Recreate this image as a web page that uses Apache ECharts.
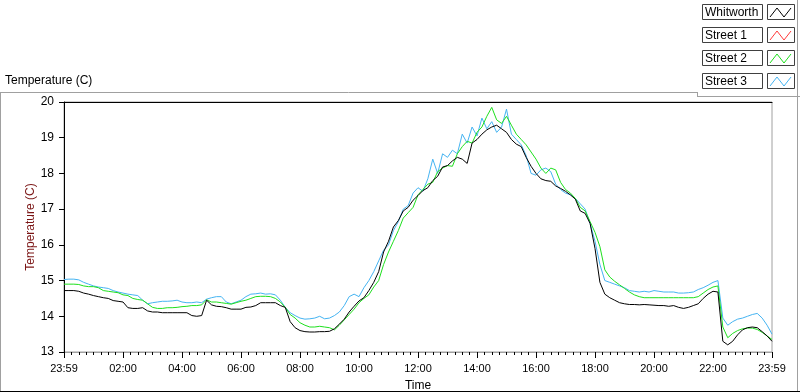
<!DOCTYPE html>
<html>
<head>
<meta charset="utf-8">
<script src="https://cdn.jsdelivr.net/npm/echarts@6/dist/echarts.min.js"></script>
<style>
html, body { margin: 0; padding: 0; background: #fff; }
#box4 { width: 800px; height: 392px; }
</style>
</head>
<body>
<div id="box4"></div>
<script>
// minutes since 23:59 of the previous day
var minutes = [0, 10, 20, 30, 40, 50, 60, 70, 80, 90, 100, 110, 120, 130, 140, 150, 160, 170, 180, 190,
    200, 210, 220, 230, 240, 250, 260, 270, 280, 290, 300, 310, 320, 330, 340, 350, 360, 370, 380, 390,
    400, 410, 420, 430, 440, 450, 460, 470, 480, 490, 500, 510, 520, 530, 540, 550, 560, 570, 580, 590,
    600, 610, 620, 630, 640, 650, 660, 670, 680, 690, 700, 710, 720, 730, 740, 750, 760, 770, 780, 790,
    800, 810, 820, 830, 840, 850, 860, 870, 880, 890, 900, 910, 920, 930, 940, 950, 960, 970, 980, 990,
    1000, 1010, 1020, 1030, 1040, 1050, 1060, 1070, 1080, 1090, 1100, 1110, 1120, 1130, 1140, 1150, 1160, 1170, 1180, 1190,
    1200, 1210, 1220, 1230, 1240, 1250, 1260, 1270, 1280, 1290, 1300, 1310, 1320, 1330, 1340, 1350, 1360, 1370, 1380, 1390,
    1400, 1410, 1420, 1430, 1440];

var whitworth = [14.72, 14.72, 14.72, 14.70, 14.65, 14.62, 14.58, 14.55, 14.52, 14.50, 14.44, 14.42, 14.40, 14.24, 14.22, 14.22, 14.24, 14.15, 14.12, 14.12,
    14.10, 14.10, 14.10, 14.10, 14.10, 14.10, 14.02, 14.00, 14.02, 14.45, 14.32, 14.28, 14.27, 14.24, 14.20, 14.20, 14.20, 14.25, 14.26, 14.30,
    14.38, 14.38, 14.38, 14.38, 14.30, 14.25, 13.85, 13.68, 13.60, 13.57, 13.56, 13.56, 13.57, 13.57, 13.58, 13.65, 13.78, 13.92, 14.12, 14.28,
    14.43, 14.52, 14.72, 14.95, 15.25, 15.80, 16.10, 16.50, 16.68, 16.95, 17.05, 17.25, 17.38, 17.52, 17.60, 17.80, 17.92, 18.18, 18.22, 18.35,
    18.45, 18.40, 18.28, 18.85, 18.95, 19.10, 19.22, 19.30, 19.35, 19.25, 19.15, 18.95, 18.82, 18.75, 18.45, 18.20, 18.00, 17.85, 17.80, 17.78,
    17.65, 17.58, 17.50, 17.40, 17.28, 16.95, 16.88, 16.60, 15.90, 14.95, 14.62, 14.52, 14.45, 14.38, 14.35, 14.33, 14.33, 14.32, 14.33, 14.32,
    14.31, 14.30, 14.30, 14.28, 14.30, 14.25, 14.22, 14.25, 14.30, 14.35, 14.50, 14.62, 14.70, 14.68, 13.30, 13.20, 13.30, 13.48, 13.62, 13.68,
    13.70, 13.68, 13.57, 13.45, 13.30];

var street1 = [];

var street2 = [14.90, 14.90, 14.90, 14.89, 14.85, 14.83, 14.83, 14.80, 14.72, 14.70, 14.68, 14.66, 14.60, 14.58, 14.50, 14.47, 14.45, 14.35, 14.25, 14.22,
    14.22, 14.24, 14.24, 14.25, 14.27, 14.28, 14.30, 14.30, 14.32, 14.46, 14.40, 14.40, 14.38, 14.36, 14.34, 14.38, 14.42, 14.45, 14.50, 14.55,
    14.56, 14.56, 14.55, 14.50, 14.40, 14.25, 14.05, 13.95, 13.82, 13.75, 13.70, 13.70, 13.72, 13.70, 13.68, 13.62, 13.75, 13.90, 14.05, 14.20,
    14.38, 14.50, 14.60, 14.82, 15.00, 15.45, 15.80, 16.10, 16.40, 16.75, 16.90, 17.05, 17.40, 17.55, 17.70, 17.75, 18.05, 18.15, 18.22, 18.20,
    18.55, 18.75, 18.90, 18.85, 19.15, 19.30, 19.60, 19.85, 19.50, 19.40, 19.60, 19.35, 19.10, 18.95, 18.80, 18.60, 18.40, 18.15, 18.00, 18.15,
    18.10, 17.75, 17.55, 17.45, 17.30, 17.05, 16.95, 16.65, 16.35, 15.95, 15.30, 15.10, 14.98, 14.88, 14.78, 14.68, 14.60, 14.55, 14.52, 14.52,
    14.52, 14.52, 14.52, 14.52, 14.52, 14.52, 14.52, 14.52, 14.52, 14.55, 14.65, 14.75, 14.82, 14.85, 13.70, 13.40, 13.52, 13.60, 13.65, 13.67,
    13.67, 13.63, 13.55, 13.45, 13.35];

var street3 = [15.03, 15.04, 15.04, 15.02, 14.95, 14.90, 14.85, 14.82, 14.80, 14.78, 14.72, 14.68, 14.65, 14.62, 14.60, 14.58, 14.45, 14.35, 14.38, 14.40,
    14.42, 14.42, 14.43, 14.45, 14.40, 14.38, 14.38, 14.40, 14.38, 14.48, 14.52, 14.55, 14.55, 14.40, 14.35, 14.40, 14.45, 14.55, 14.62, 14.63,
    14.65, 14.62, 14.63, 14.60, 14.45, 14.25, 14.10, 14.02, 13.95, 13.92, 13.93, 13.95, 14.00, 13.93, 13.95, 14.02, 14.12, 14.30, 14.55, 14.62,
    14.55, 14.80, 15.00, 15.25, 15.55, 15.85, 16.00, 16.40, 16.65, 17.00, 17.10, 17.45, 17.60, 17.50, 17.85, 18.40, 18.00, 18.55, 18.45, 18.65,
    18.55, 19.10, 18.85, 19.30, 19.05, 19.55, 19.25, 19.45, 19.15, 19.30, 19.80, 19.10, 18.95, 18.80, 18.50, 18.00, 17.95, 18.10, 18.15, 18.05,
    17.70, 17.55, 17.45, 17.40, 17.30, 17.15, 17.00, 16.60, 16.10, 15.45, 15.00, 14.95, 14.90, 14.85, 14.80, 14.72, 14.70, 14.68, 14.70, 14.68,
    14.72, 14.70, 14.68, 14.68, 14.68, 14.65, 14.65, 14.66, 14.68, 14.75, 14.80, 14.87, 14.95, 15.00, 13.95, 13.75, 13.85, 13.92, 13.95, 14.00,
    14.05, 14.08, 13.95, 13.75, 13.50];

var legendNames = ['Whitworth', 'Street 1', 'Street 2', 'Street 3'];
var lineColors = ['#000000', '#ff3c3c', '#1ee01e', '#45b4f2'];

function pair(vals) {
    var out = [];
    vals.forEach(function (v, i) {
        out.push([minutes[i], v]);
    });
    return out;
}

// 0 and 1440 are the 23:59 ends, the rest are whole hours
function timeLabel(v) {
    if (v === 0 || v === 1440) return '23:59';
    var h = Math.round(v / 60);
    return (h < 10 ? '0' + h : '' + h) + ':00';
}

function initTempChart() {
    var dom = document.getElementById('box4');
    var myChart = echarts.init(dom, null, { renderer: 'canvas' });

    var font = 'Liberation Sans';

    var graphics = [
        // frame around the graph
        { type: 'line', shape: { x1: 0.5, y1: 93, x2: 0.5, y2: 392 }, style: { stroke: '#a0a0a0', lineWidth: 1 } },
        { type: 'line', shape: { x1: 0, y1: 92.5, x2: 697, y2: 92.5 }, style: { stroke: '#a0a0a0', lineWidth: 1 } },
        { type: 'line', shape: { x1: 697.5, y1: 92, x2: 697.5, y2: 97 }, style: { stroke: '#a0a0a0', lineWidth: 1 } },
        { type: 'line', shape: { x1: 697, y1: 96.5, x2: 800, y2: 96.5 }, style: { stroke: '#a0a0a0', lineWidth: 1 } },
        { type: 'line', shape: { x1: 797.5, y1: 0, x2: 797.5, y2: 392 }, style: { stroke: '#a0a0a0', lineWidth: 1 } },
        { type: 'line', shape: { x1: 0, y1: 391.5, x2: 800, y2: 391.5 }, style: { stroke: '#000', lineWidth: 1 } },
        {
            type: 'text', left: 5, top: 75,
            style: { text: 'Temperature (C)', fill: '#000', font: '12px ' + font }
        }
    ];

    legendNames.forEach(function (name, i) {
        var y0 = 4 + i * 23;
        graphics.push({
            type: 'rect', shape: { x: 702.5, y: y0 + 0.5, width: 60, height: 15 },
            style: { fill: '#fff', stroke: '#404040', lineWidth: 1 }
        });
        graphics.push({
            type: 'text', x: 705, y: y0 + 8.5,
            style: { text: name, fill: '#000', font: '12px ' + font, verticalAlign: 'middle' }
        });
        graphics.push({
            type: 'rect', shape: { x: 767.5, y: y0 + 0.5, width: 27, height: 15 },
            style: { fill: '#fff', stroke: '#404040', lineWidth: 1 }
        });
        graphics.push({
            type: 'polyline',
            shape: { points: [[770, y0 + 13], [777, y0 + 4], [784, y0 + 13], [791, y0 + 4]] },
            style: { stroke: lineColors[i], lineWidth: 1, fill: null }
        });
    });

    var series = [];
    var allData = [whitworth, street1, street2, street3];
    // draw the streets first so Whitworth sits on top
    [3, 2, 1, 0].forEach(function (i) {
        series.push({
            name: legendNames[i],
            type: 'line',
            showSymbol: false,
            symbol: 'none',
            smooth: false,
            lineStyle: { width: 1, color: lineColors[i] },
            color: lineColors[i],
            data: pair(allData[i])
        });
    });

    var option = {
        backgroundColor: '#fff',
        animation: false,
        textStyle: { fontFamily: font },
        grid: {
            left: 64, right: 28, top: 102, bottom: 40, containLabel: false, outerBoundsMode: 'none',
            show: true, borderColor: '#a0a0a0', borderWidth: 1
        },
        xAxis: [
            {
                type: 'value', min: 0, max: 1440, interval: 120, position: 'bottom',
                name: 'Time', nameLocation: 'middle', nameGap: 28, nameMoveOverlap: false,
                nameTextStyle: { color: '#000', fontSize: 12, fontFamily: font },
                axisLine: { show: true, lineStyle: { color: '#a0a0a0' } },
                axisTick: { show: true, length: 6, lineStyle: { color: '#000' } },
                minorTick: { show: true, splitNumber: 8, length: 3, lineStyle: { color: '#000' } },
                axisLabel: { formatter: timeLabel, color: '#000', fontSize: 11, margin: 11 },
                splitLine: { show: false }
            },
            {
                type: 'value', min: 0, max: 1440, position: 'top',
                axisLine: { show: true, lineStyle: { color: '#000' } },
                axisTick: { show: false },
                axisLabel: { show: false },
                splitLine: { show: false }
            }
        ],
        yAxis: {
            type: 'value', min: 13, max: 20, interval: 1,
            name: 'Temperature (C)', nameLocation: 'middle', nameGap: 27, nameMoveOverlap: false,
            nameTextStyle: { color: '#7a1414', fontSize: 12, fontFamily: font },
            axisLine: { show: true, lineStyle: { color: '#000' } },
            axisTick: { show: true, length: 5, lineStyle: { color: '#000' } },
            axisLabel: { color: '#000', fontSize: 12, margin: 10 },
            splitLine: { show: false }
        },
        graphic: graphics,
        series: series
    };

    myChart.setOption(option, true);
}

initTempChart();
</script>
</body>
</html>
